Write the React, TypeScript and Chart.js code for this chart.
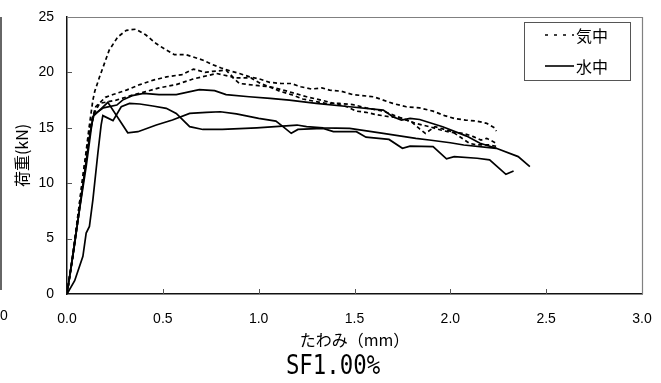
import { useEffect, useRef } from "react";
import { Chart, registerables } from "chart.js";

Chart.register(...registerables);

type Pt = [number, number];

// Axis setup and labels
const xTicks = [0, 0.5, 1, 1.5, 2, 2.5, 3];
const yTicks = [0, 5, 10, 15, 20, 25];
const xTitle = "たわみ（mm）";
const yTitle = "荷重(kN)";
const caption = "SF1.00%";
const legendLabels = ["気中", "水中"];

// 気中 (cured in air): deflection (mm), load (kN)
const air1: Pt[] = [
  [0, 0], [0.03, 3.5], [0.06, 7.5], [0.09, 11.5], [0.115, 15], [0.135, 17.5], [0.145, 18.3],
  [0.17, 19.6], [0.22, 22], [0.265, 23.2], [0.31, 23.8], [0.36, 23.9], [0.41, 23.4],
  [0.465, 22.6], [0.52, 22.0], [0.56, 21.6], [0.62, 21.6], [0.675, 21.3], [0.71, 21.1],
  [0.76, 20.7], [0.805, 20.4], [0.857, 20.1], [0.9, 19.9], [0.953, 19.6], [1.005, 19.4],
  [1.057, 19.1], [1.118, 19.0], [1.17, 19.0], [1.22, 18.7], [1.275, 18.5], [1.33, 18.6],
  [1.37, 18.4], [1.43, 18.3], [1.49, 18.0], [1.6, 17.8], [1.65, 17.5], [1.7, 17.2],
  [1.77, 16.9], [1.84, 16.8], [1.91, 16.5], [1.97, 16.1], [2.02, 15.85], [2.08, 15.7],
  [2.14, 15.6], [2.19, 15.4], [2.23, 15.0], [2.24, 14.7],
];
const air2: Pt[] = [
  [0, 0], [0.03, 3.5], [0.06, 7.5], [0.09, 11.5], [0.12, 15.2], [0.15, 16.9], [0.2, 17.75],
  [0.24, 18.0], [0.31, 18.4], [0.38, 18.9], [0.45, 19.3], [0.52, 19.6], [0.6, 19.8],
  [0.66, 20.3], [0.72, 20.0], [0.76, 20.1], [0.83, 20.2], [0.87, 19.5], [0.96, 19.5],
  [1.01, 19.0], [1.07, 18.6], [1.11, 18.3], [1.17, 18.0], [1.23, 17.6], [1.29, 17.4],
  [1.35, 17.2], [1.42, 17.2], [1.49, 17.1], [1.56, 16.8], [1.65, 16.5], [1.74, 15.9],
  [1.82, 15.4], [1.89, 15.1], [1.95, 14.8], [2.0, 14.6], [2.07, 14.5], [2.12, 14.2],
  [2.16, 13.9], [2.19, 14.05], [2.24, 13.6],
];
const air3: Pt[] = [
  [0, 0], [0.03, 3.2], [0.06, 7], [0.09, 11], [0.12, 14.8], [0.145, 16.4], [0.17, 17.2],
  [0.257, 17.5], [0.344, 17.96], [0.41, 18.26], [0.48, 18.6], [0.57, 18.9], [0.657, 19.4],
  [0.78, 19.9], [0.86, 19.6], [0.9, 19.0], [1.0, 18.8], [1.06, 18.7], [1.15, 18.3],
  [1.25, 17.8], [1.35, 17.4], [1.46, 16.9], [1.51, 16.5], [1.56, 16.4], [1.61, 16.2],
  [1.68, 16.0], [1.74, 15.9], [1.8, 15.5], [1.84, 14.9], [1.87, 14.5], [1.92, 15.1],
  [1.96, 14.9], [2.01, 14.65], [2.1, 13.6], [2.14, 13.45], [2.2, 13.45], [2.25, 13.3],
];

// 水中 (cured in water)
const water1: Pt[] = [
  [0, 0], [0.04, 4.5], [0.08, 9.5], [0.12, 14.5], [0.14, 16.2], [0.19, 16.8], [0.26, 17.05],
  [0.29, 17.5], [0.34, 17.9], [0.4, 18.1], [0.48, 18.0], [0.57, 18.0], [0.69, 18.45],
  [0.77, 18.35], [0.83, 18.0], [0.95, 17.8], [1.06, 17.65], [1.16, 17.5], [1.3, 17.2],
  [1.475, 16.9], [1.65, 16.6], [1.7, 16.0], [1.745, 15.7], [1.79, 15.85], [1.84, 15.75],
  [1.96, 15.1], [2.085, 14.25], [2.155, 13.6], [2.24, 13.15],
];
const water2: Pt[] = [
  [0, 0], [0.03, 3.5], [0.06, 7], [0.1, 11.5], [0.135, 16.0], [0.213, 17.3], [0.317, 14.55],
  [0.37, 14.65], [0.466, 15.25], [0.55, 15.7], [0.64, 16.3], [0.727, 16.4], [0.8, 16.45],
  [0.884, 16.25], [1.0, 15.85], [1.09, 15.6], [1.127, 15.1], [1.17, 14.5], [1.205, 14.85],
  [1.336, 14.95], [1.39, 14.65], [1.51, 14.65], [1.56, 14.15], [1.68, 13.95], [1.75, 13.15],
  [1.79, 13.35], [1.91, 13.3], [1.98, 12.2], [2.02, 12.4], [2.14, 12.25], [2.205, 12.1],
  [2.29, 10.8], [2.33, 11.1],
];
const water3: Pt[] = [
  [0, 0], [0.04, 1.2], [0.083, 3.4], [0.1, 5.5], [0.117, 6.1], [0.135, 8.5], [0.161, 12.7],
  [0.178, 15.25], [0.187, 16.1], [0.24, 15.65], [0.283, 16.9], [0.326, 17.2], [0.38, 17.15],
  [0.448, 16.97], [0.518, 16.76], [0.57, 16.3], [0.64, 15.1], [0.709, 14.85], [0.81, 14.85],
  [0.99, 15.0], [1.2, 15.25], [1.25, 15.1], [1.336, 15.0], [1.475, 14.95], [1.65, 14.5],
  [1.82, 14.05], [1.89, 13.9], [2.0, 13.65], [2.07, 13.45], [2.24, 13.15], [2.354, 12.4],
  [2.415, 11.5],
];

const airSeries = [air1, air2, air3];
const waterSeries = [water1, water2, water3];

const AIR_DASH = [4, 3];
const LINE_COLOR = "#000";

const toPoints = (s: Pt[]) => s.map(([x, y]) => ({ x, y }));

// Frame, inward tick marks, legend box, caption and the sliver of the neighbouring panel
const decorPlugin = {
  id: "decor",
  afterDraw(chart: any) {
    const { ctx, chartArea: a, scales } = chart;
    const xs = scales.x;
    const ys = scales.y;
    ctx.save();

    // top and right frame edges
    ctx.strokeStyle = "#808080";
    ctx.lineWidth = 1.2;
    ctx.beginPath();
    ctx.moveTo(a.left, a.top + 0.5);
    ctx.lineTo(a.right + 0.5, a.top + 0.5);
    ctx.lineTo(a.right + 0.5, a.bottom);
    ctx.stroke();

    // tick marks pointing into the plot
    ctx.strokeStyle = "#555";
    ctx.lineWidth = 1;
    ctx.beginPath();
    xTicks.slice(1, -1).forEach((v) => {
      const px = Math.round(xs.getPixelForValue(v)) + 0.5;
      ctx.moveTo(px, a.bottom);
      ctx.lineTo(px, a.bottom - 5);
    });
    yTicks.slice(1, -1).forEach((v) => {
      const py = Math.round(ys.getPixelForValue(v)) + 0.5;
      ctx.moveTo(a.left, py);
      ctx.lineTo(a.left + 5, py);
    });
    ctx.stroke();

    // legend
    const bx = 524.5, by = 22.5, bw = 106, bh = 58;
    ctx.fillStyle = "#fff";
    ctx.fillRect(bx, by, bw, bh);
    ctx.strokeStyle = "#555";
    ctx.lineWidth = 1;
    ctx.strokeRect(bx, by, bw, bh);
    const rows = [35, 66];
    ctx.strokeStyle = LINE_COLOR;
    ctx.lineWidth = 1.6;
    ctx.setLineDash([3, 6]);
    ctx.beginPath();
    ctx.moveTo(545, rows[0]);
    ctx.lineTo(574, rows[0]);
    ctx.stroke();
    ctx.setLineDash([]);
    ctx.beginPath();
    ctx.moveTo(545, rows[1]);
    ctx.lineTo(574, rows[1]);
    ctx.stroke();
    ctx.fillStyle = "#000";
    ctx.font = '16px "Noto Sans CJK JP"';
    ctx.textAlign = "left";
    ctx.textBaseline = "middle";
    legendLabels.forEach((t, i) => ctx.fillText(t, 576, rows[i] + 1));

    // caption below the axis title
    ctx.save();
    ctx.translate(333, 367);
    ctx.scale(0.86, 1);
    ctx.font = '26px "DejaVu Sans Mono"';
    ctx.textAlign = "center";
    ctx.textBaseline = "middle";
    ctx.fillText(caption, 0, 0);
    ctx.restore();

    // edge of the adjacent panel
    ctx.strokeStyle = "#666";
    ctx.lineWidth = 2;
    ctx.beginPath();
    ctx.moveTo(1, 17);
    ctx.lineTo(1, 290);
    ctx.stroke();
    ctx.font = '14px "Liberation Sans"';
    ctx.textAlign = "left";
    ctx.fillText("0", 0, 316);

    ctx.restore();
  },
};

export default function App() {
  const ref = useRef<HTMLCanvasElement>(null);

  useEffect(() => {
    if (!ref.current) return;
    Chart.defaults.color = "#000";

    const datasets = [
      ...airSeries.map((s, i) => ({
        label: `${legendLabels[0]}${i + 1}`,
        data: toPoints(s),
        borderColor: LINE_COLOR,
        borderWidth: 1.7,
        borderDash: AIR_DASH,
        pointRadius: 0,
        tension: 0,
        fill: false,
      })),
      ...waterSeries.map((s, i) => ({
        label: `${legendLabels[1]}${i + 1}`,
        data: toPoints(s),
        borderColor: LINE_COLOR,
        borderWidth: 1.7,
        pointRadius: 0,
        tension: 0,
        fill: false,
      })),
    ];

    const chart = new Chart(ref.current, {
      type: "line",
      data: { datasets },
      plugins: [decorPlugin],
      options: {
        animation: false,
        responsive: false,
        events: [],
        layout: { padding: { top: 17, right: 19, bottom: 31.4, left: 0 } },
        plugins: {
          legend: { display: false },
          tooltip: { enabled: false },
          title: { display: false },
        },
        scales: {
          x: {
            type: "linear",
            min: xTicks[0],
            max: xTicks[xTicks.length - 1],
            afterBuildTicks: (scale: any) => {
              scale.ticks = xTicks.map((v) => ({ value: v }));
            },
            afterFit: (scale: any) => {
              scale.height = 57.6;
              scale.paddingLeft = 0;
              scale.paddingRight = 0;
            },
            grid: { display: false, drawTicks: false },
            border: { display: true, color: "#111", width: 1.5 },
            ticks: {
              padding: 17,
              maxRotation: 0,
              font: { family: "Liberation Sans", size: 14 },
              color: "#000",
              callback: (v: any) => Number(v).toFixed(1),
            },
            title: {
              display: true,
              text: xTitle,
              color: "#000",
              font: { family: "Noto Sans CJK JP", size: 16 },
              padding: { top: 0, bottom: 2 },
            },
          },
          y: {
            type: "linear",
            min: yTicks[0],
            max: yTicks[yTicks.length - 1],
            afterBuildTicks: (scale: any) => {
              scale.ticks = yTicks.map((v) => ({ value: v }));
            },
            afterFit: (scale: any) => {
              scale.width = 67;
              scale.paddingTop = 0;
              scale.paddingBottom = 0;
            },
            grid: { display: false, drawTicks: false },
            border: { display: true, color: "#111", width: 1.5 },
            ticks: {
              padding: 13,
              font: { family: "Liberation Sans", size: 14 },
              color: "#000",
            },
            title: {
              display: true,
              text: yTitle,
              color: "#000",
              font: { family: "Noto Sans CJK JP", size: 16 },
              padding: { top: 12, bottom: 0 },
            },
          },
        },
      },
    });

    return () => chart.destroy();
  }, []);

  return (
    <div style={{ position: "absolute", left: 0, top: 0, width: 661, height: 383, background: "#fff" }}>
      <canvas ref={ref} width={661} height={383} style={{ display: "block" }} />
    </div>
  );
}
